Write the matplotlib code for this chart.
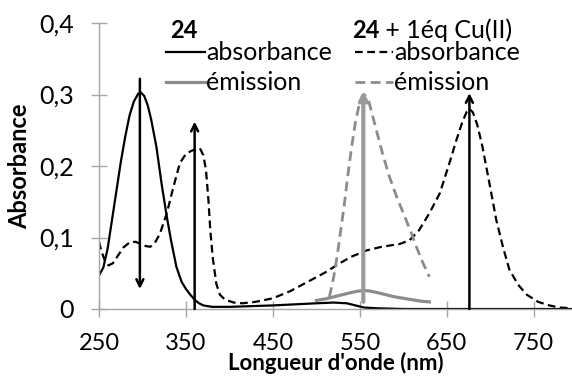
import numpy as np
import matplotlib
matplotlib.use('Agg')
import matplotlib.pyplot as plt
from matplotlib.lines import Line2D

plt.rcParams['font.family'] = ['Lato', 'DejaVu Sans']

# 24 absorbance (solid black)
abs24_nm = [250, 255, 260, 265, 270, 275, 280, 285, 290, 295, 298, 302, 306, 310,
            316, 322, 328, 333, 339, 345, 350, 355, 360, 365, 370, 380, 400, 450,
            500, 520, 535, 545, 555, 570, 600, 800]
abs24_val = [0.047, 0.058, 0.085, 0.125, 0.165, 0.205, 0.240, 0.270, 0.290, 0.301,
             0.303, 0.298, 0.285, 0.265, 0.227, 0.175, 0.129, 0.095, 0.059, 0.038,
             0.028, 0.020, 0.013, 0.008, 0.005, 0.003, 0.003, 0.005, 0.008, 0.009,
             0.008, 0.005, 0.002, 0.001, 0.0, 0.0]

# 24 + Cu(II) absorbance (dashed black)
abscu_nm = [250, 253, 257, 261, 266, 272, 278, 285, 292, 298, 304, 309, 314, 320,
            328, 335, 343, 350, 356, 362, 366, 370, 373, 376, 378, 381, 385, 389,
            395, 405, 415, 430, 450, 470, 490, 510, 527, 540, 558, 575, 596, 607,
            618, 630, 642, 653, 661, 668, 673, 676, 680, 685, 691, 699, 707, 715,
            722, 732, 742, 755, 768, 780, 795]
abscu_val = [0.094, 0.080, 0.067, 0.061, 0.064, 0.075, 0.086, 0.093, 0.094, 0.091,
             0.088, 0.087, 0.092, 0.105, 0.134, 0.168, 0.204, 0.217, 0.221, 0.224,
             0.225, 0.215, 0.195, 0.150, 0.110, 0.070, 0.035, 0.020, 0.013, 0.009,
             0.008, 0.010, 0.015, 0.025, 0.038, 0.051, 0.064, 0.073, 0.082, 0.087,
             0.091, 0.096, 0.110, 0.134, 0.162, 0.204, 0.236, 0.262, 0.276, 0.280,
             0.275, 0.258, 0.227, 0.176, 0.124, 0.085, 0.055, 0.034, 0.020, 0.010,
             0.005, 0.002, 0.001]

# 24 emission (solid grey)
em24_nm = [500, 510, 520, 530, 540, 548, 555, 562, 570, 580, 590, 600, 610, 620, 630]
em24_val = [0.012, 0.014, 0.017, 0.020, 0.023, 0.025, 0.026, 0.025, 0.023, 0.020,
            0.017, 0.015, 0.013, 0.011, 0.010]

# 24 + Cu(II) emission (dashed grey)
emcu_nm = [515, 520, 524, 528, 532, 536, 540, 545, 550, 555, 560, 569, 576, 584,
           592, 600, 608, 615, 622, 630]
emcu_val = [0.017, 0.045, 0.075, 0.110, 0.145, 0.185, 0.222, 0.262, 0.290, 0.300,
            0.292, 0.250, 0.218, 0.185, 0.158, 0.134, 0.110, 0.087, 0.066, 0.045]

# arrows: x position, start value, end value (tip)
arrow_nm = [297, 360, 554, 676]
arrow_from = [0.322, 0.0, 0.010, 0.0]
arrow_to = [0.028, 0.262, 0.305, 0.302]
arrow_col = ['black', 'black', '#9a9a9a', 'black']
arrow_lw = [1.8, 1.8, 3.0, 1.8]

xticks = [250, 350, 450, 550, 650, 750]
yticks = [0, 0.1, 0.2, 0.3, 0.4]
ytick_labels = ['0', '0,1', '0,2', '0,3', '0,4']

W, H = 572, 378
fig = plt.figure(figsize=(W / 100, H / 100), dpi=100)
ax = fig.add_axes([99 / W, 1 - 309 / H, (572 - 99) / W, (309 - 23) / H])

grey = '#8c8c8c'
ax.plot(abs24_nm, abs24_val, color='black', lw=1.6)
ax.plot(abscu_nm, abscu_val, color='black', lw=1.6, dashes=(3.5, 2))
ax.plot(em24_nm, em24_val, color=grey, lw=2.3)
ax.plot(emcu_nm, emcu_val, color=grey, lw=2.0, dashes=(3.5, 2))

for x, y0, y1, c, lw in zip(arrow_nm, arrow_from, arrow_to, arrow_col, arrow_lw):
    ax.annotate('', xy=(x, y1), xytext=(x, y0),
                arrowprops=dict(arrowstyle='->,head_length=0.5,head_width=0.25',
                                color=c, lw=lw, shrinkA=0, shrinkB=0))

ax.set_xlim(250, 794)
ax.set_ylim(0, 0.4)
ax.set_xticks(xticks)
ax.set_yticks(yticks)
ax.set_yticklabels(ytick_labels)
for s in ['top', 'right']:
    ax.spines[s].set_visible(False)
for s in ['left', 'bottom']:
    ax.spines[s].set_color('#a6a6a6')
    ax.spines[s].set_linewidth(1.0)
ax.tick_params(direction='inout', length=12, width=1.0, color='#a6a6a6',
               labelsize=18)
ax.tick_params(axis='x', pad=11, labelsize=17)
ax.tick_params(axis='y', pad=12)
ax.set_xlabel("Longueur d'onde (nm)", fontsize=16, fontweight='bold', labelpad=-1)
ax.set_ylabel('Absorbance', fontsize=17, fontweight='bold', labelpad=6)


# legend drawn by hand in pixel units
def fx(px):
    return px / W


def fy(py):
    return 1 - py / H


fig.text(fx(170), fy(30), '24', fontsize=17, fontweight='bold', va='center')
t24 = fig.text(fx(352), fy(30), '24', fontsize=17, fontweight='bold', va='center')
ax.annotate(' + 1éq Cu(II)', xy=(1, 0.5), xycoords=t24, fontsize=18,
            va='center', ha='left', annotation_clip=False)
fig.add_artist(Line2D([fx(166), fx(205)], [fy(52), fy(52)], color='black', lw=1.6))
fig.add_artist(Line2D([fx(166), fx(205)], [fy(82), fy(82)], color=grey, lw=2.3))
fig.add_artist(Line2D([fx(355), fx(393)], [fy(52), fy(52)], color='black', lw=1.6,
                      dashes=(3.5, 2)))
fig.add_artist(Line2D([fx(355), fx(393)], [fy(82), fy(82)], color=grey, lw=2.0,
                      dashes=(3.5, 2)))
fig.text(fx(206), fy(53), 'absorbance', fontsize=18, va='center')
fig.text(fx(206), fy(82), 'émission', fontsize=18, va='center')
fig.text(fx(394), fy(53), 'absorbance', fontsize=18, va='center')
fig.text(fx(394), fy(82), 'émission', fontsize=18, va='center')

fig.savefig('out.png', dpi=100)
